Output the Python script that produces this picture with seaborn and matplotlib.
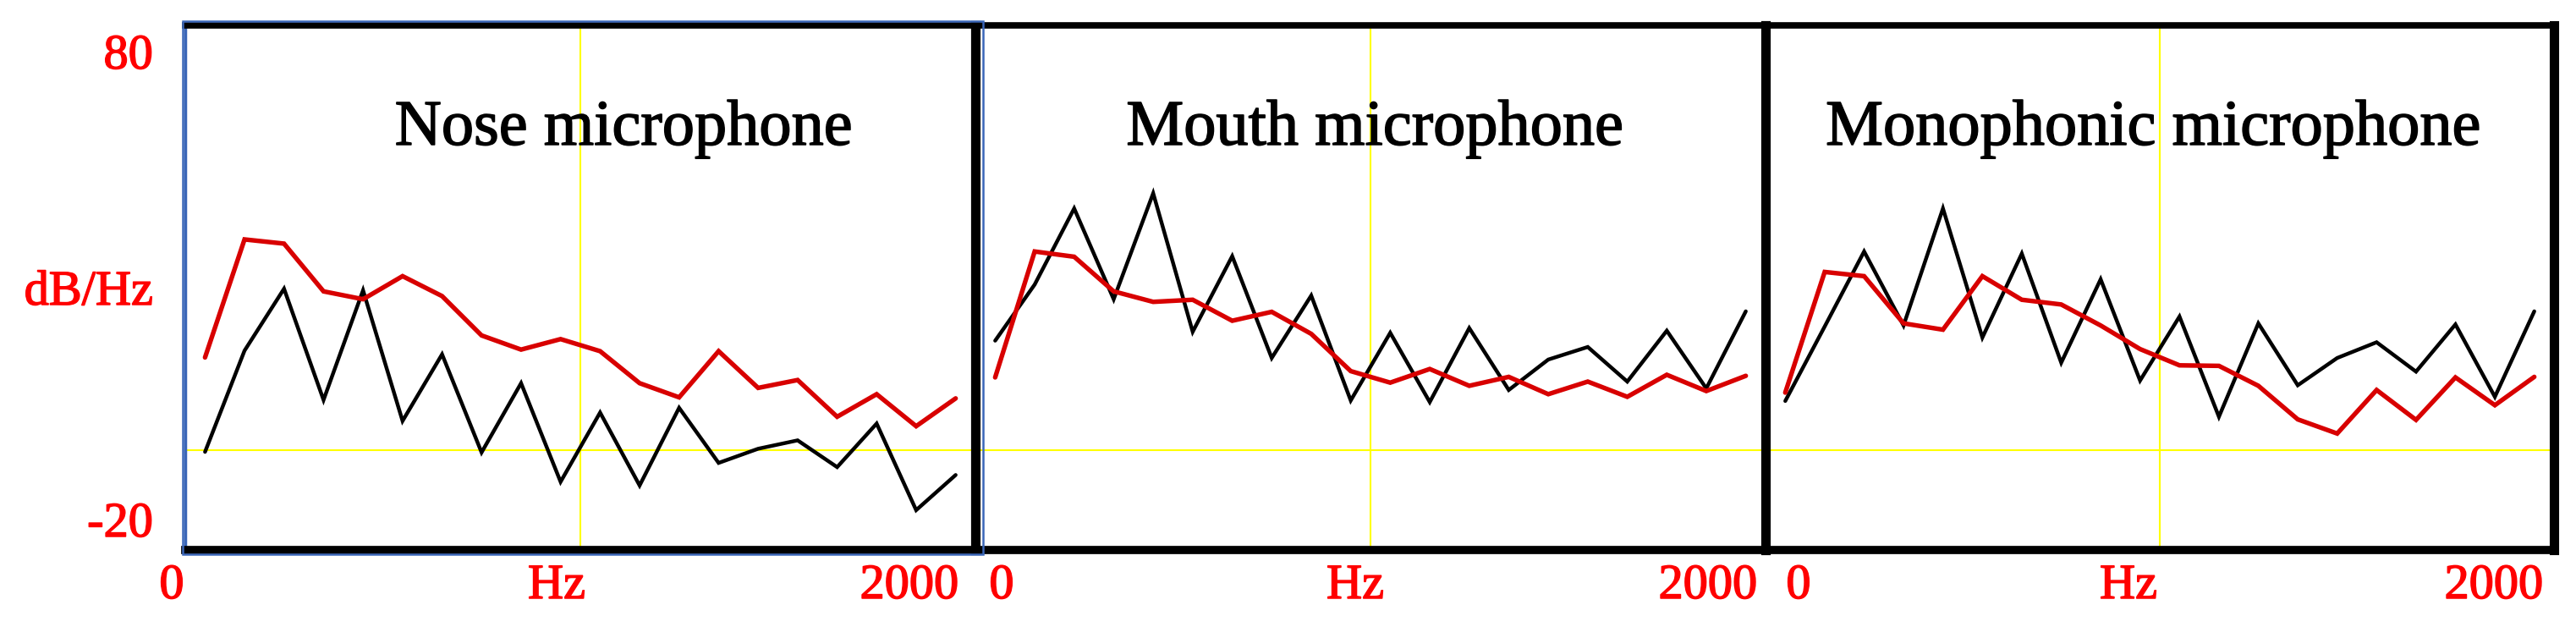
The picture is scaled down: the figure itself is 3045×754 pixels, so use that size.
import matplotlib
matplotlib.use("Agg")
import matplotlib.pyplot as plt
import matplotlib.patheffects as pe
import seaborn as sns
import pandas as pd
from matplotlib.patches import Rectangle

# ---------------- data ----------------
freq_hz = [50, 150, 250, 350, 450, 550, 650, 750, 850, 950,
           1050, 1150, 1250, 1350, 1450, 1550, 1650, 1750, 1850, 1950]

nose_black = [-0.3, 19.0, 30.8, 9.6, 30.5, 5.6, 18.3, -0.4, 12.8, -6.0,
              7.2, -6.7, 8.1, -2.4, 0.3, 1.9, -3.2, 5.1, -11.4, -4.7]
nose_red = [17.7, 40.2, 39.4, 30.3, 28.8, 33.2, 29.4, 21.9, 19.2, 21.2,
            18.9, 12.8, 10.1, 18.9, 11.9, 13.4, 6.4, 10.7, 4.6, 9.9]

mouth_black = [20.9, 31.6, 46.1, 28.8, 49.0, 22.6, 37.0, 17.6, 29.5, 9.5,
               22.4, 9.2, 23.3, 11.5, 17.3, 19.7, 13.1, 22.8, 11.8, 26.5]
mouth_red = [13.9, 37.9, 36.9, 30.3, 28.3, 28.7, 24.7, 26.4, 22.2, 15.1,
             12.9, 15.5, 12.3, 14.0, 10.7, 13.1, 10.2, 14.4, 11.3, 14.2]

mono_black = [9.4, 23.6, 37.9, 23.8, 46.1, 21.5, 37.5, 16.7, 32.6, 13.3,
              25.5, 6.4, 24.2, 12.4, 17.6, 20.6, 15.0, 24.0, 10.2, 26.5]
mono_red = [11.0, 34.0, 33.2, 24.2, 23.0, 33.2, 28.7, 27.8, 23.8, 19.3,
            16.2, 16.1, 12.3, 5.9, 3.2, 11.5, 5.8, 13.9, 8.6, 14.0]

panel_titles = ["Nose microphone", "Mouth microphone", "Monophonic microphone"]
y_labels = ["80", "dB/Hz", "-20"]
x_labels = ["0", "Hz", "2000"]

# ---------------- style ----------------
sns.set_theme(style="white")
plt.rcParams['font.family'] = ['Liberation Serif', 'DejaVu Serif']

W, H = 3045, 754
fig = plt.figure(figsize=(W / 100, H / 100), dpi=100)
fig.patch.set_facecolor("white")

RED_LINE = "#D80000"
RED_TEXT = "#FF0000"
YELLOW = "#FFFF00"
BLUE = "#3A66B8"

panel_px = [(219, 1153), (1153, 2087), (2087, 3019)]
top_px, bot_px = 30, 650

series = [(nose_black, nose_red), (mouth_black, mouth_red), (mono_black, mono_red)]
title_cx = [737, 1625, 2545]
xlab_cx = [(203, 658, 1075), (1184, 1602, 2019), (2126, 2516, 2948)]


def heavy(color):
    return [pe.withStroke(linewidth=1.1, foreground=color)]


for i, ((x0, x1), (blk, red)) in enumerate(zip(panel_px, series)):
    ax = fig.add_axes([x0 / W, (H - bot_px) / H, (x1 - x0) / W, (bot_px - top_px) / H])
    ax.set_facecolor("white")
    ax.axhline(0, color=YELLOW, lw=1.5, zorder=1)
    ax.axvline(1000, color=YELLOW, lw=1.5, zorder=1)
    df = pd.DataFrame({"freq": freq_hz, "black": blk, "red": red})
    sns.lineplot(data=df, x="freq", y="black", color="black", lw=3.2, ax=ax, zorder=3,
                 solid_joinstyle="miter")
    sns.lineplot(data=df, x="freq", y="red", color=RED_LINE, lw=3.9, ax=ax, zorder=4,
                 solid_joinstyle="miter")
    ax.set_xlim(0, 2000)
    ax.set_ylim(-19, 81)
    ax.set_xticks([])
    ax.set_yticks([])
    ax.set_xlabel("")
    ax.set_ylabel("")
    for side, sp in ax.spines.items():
        sp.set_visible(True)
        sp.set_color("black")
        sp.set_zorder(6)
    ax.spines["top"].set_linewidth(5.5)
    ax.spines["bottom"].set_linewidth(7)
    ax.spines["right"].set_linewidth(8)
    ax.spines["left"].set_linewidth(8)
    if i == 0:
        ax.spines["left"].set_color(BLUE)
        ax.spines["left"].set_linewidth(2.5)

    # panel title
    fig.text(title_cx[i] / W, (H - 171) / H, panel_titles[i], ha="center",
             va="baseline", fontsize=55, color="black", path_effects=heavy("black"))
    # x labels
    for lab, cx in zip(x_labels, xlab_cx[i]):
        fig.text(cx / W, (H - 693) / H, lab, ha="center", va="center",
                 fontsize=42, color=RED_TEXT, path_effects=heavy(RED_TEXT))

# blue outer frame of the first panel
fig.patches.append(Rectangle((216 / W, (H - 655) / H), (1162 - 216) / W, (655 - 25) / H,
                             transform=fig.transFigure, fill=False,
                             edgecolor=BLUE, lw=1.8, zorder=0))

# y labels (left side)
for lab, cy in zip(y_labels, [67, 346, 620]):
    fig.text(181 / W, (H - cy) / H, lab, ha="right", va="center",
             fontsize=42, color=RED_TEXT, path_effects=heavy(RED_TEXT))

fig.savefig("out.png", dpi=100, facecolor="white")
